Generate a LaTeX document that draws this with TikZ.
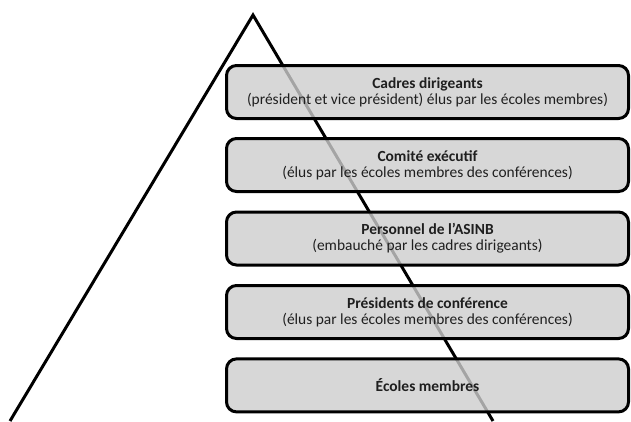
\documentclass[tikz,border=0pt]{standalone}
\usepackage{fontspec}
\setmainfont{Carlito}
\begin{document}
\begin{tikzpicture}[x=1bp,y=1bp,yscale=-1,
  tier/.style={draw=black, line width=3bp, rounded corners=10bp,
    fill={rgb,255:red,205;green,205;blue,205}, fill opacity=0.8, text opacity=1,
    minimum width=402bp, minimum height=53bp, inner sep=0pt, align=center,
    text=black!88, font=\fontsize{15.5}{16}\selectfont}]
\useasboundingbox (0,0) rectangle (631,421);

% Pyramid
\coordinate (apex) at (253,15);
\coordinate (footL) at (10,421);
\coordinate (footR) at (493,421);
\draw [line width=3bp] (footL) -- (apex) -- (footR);

% Tiers
\node [tier] (cadres) at (427.5,92) {\textbf{Cadres dirigeants}\\(président et vice président) élus par les écoles membres)};
\node [tier] (comite) at (427.5,165) {\textbf{Comité exécutif}\\(élus par les écoles membres des conférences)};
\node [tier] (personnel) at (427.5,238.5) {\textbf{Personnel de l'ASINB}\\(embauché par les cadres dirigeants)};
\node [tier] (presidents) at (427.5,312) {\textbf{Présidents de conférence}\\(élus par les écoles membres des conférences)};
\node [tier] (ecoles) at (427.5,385.4) {\textbf{Écoles membres}};

\end{tikzpicture}
\end{document}
